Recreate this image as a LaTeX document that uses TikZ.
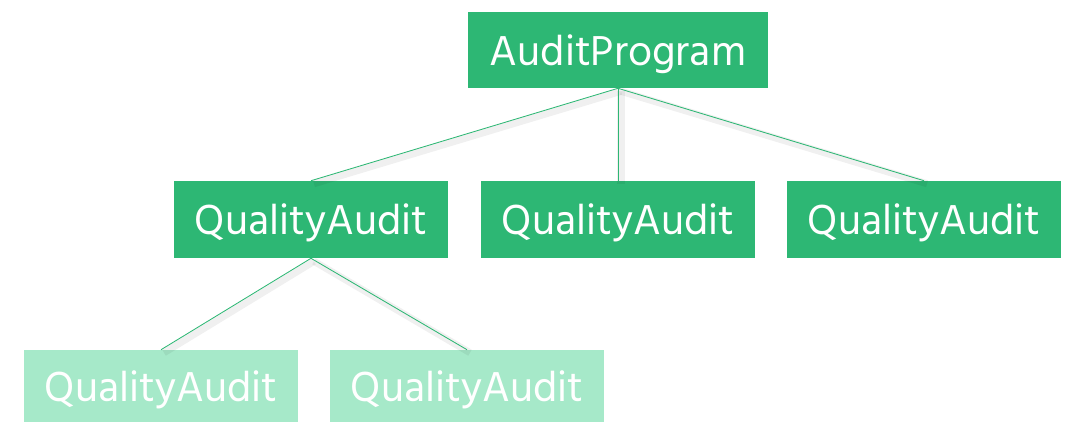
\documentclass[tikz,border=0pt]{standalone}
\usepackage{fontspec}
\setmainfont{Hind Siliguri}
\definecolor{auditgreen}{HTML}{2DB774}
\definecolor{auditmint}{HTML}{A6E9C9}
\begin{document}
\begin{tikzpicture}[x=0.025cm,y=-0.025cm,
    box/.style={fill=auditgreen,text=white,inner sep=0pt,minimum height=1.925cm,
      minimum width=6.85cm,text depth=0pt,font=\fontsize{30.5}{34}\selectfont},
    subbox/.style={box,fill=auditmint,minimum height=1.8cm},
    link/.style={auditgreen,line width=0.6pt},
    linkshadow/.style={black,opacity=0.06,line width=5pt}]
  \useasboundingbox (0,0) rectangle (1072,423);

  \node[box,minimum width=7.5cm,minimum height=1.9cm] (prog) at (618,50) {AuditProgram};
  \node[box] (qa1) at (311,219.5) {QualityAudit};
  \node[box] (qa2) at (618,219.5) {QualityAudit};
  \node[box] (qa3) at (924,219.5) {QualityAudit};
  \node[subbox] (qa11) at (161,386) {QualityAudit};
  \node[subbox] (qa12) at (467,386) {QualityAudit};

  \foreach \p/\c in {prog/qa1,prog/qa2,prog/qa3,qa1/qa11,qa1/qa12}
    {\draw[linkshadow] ([shift={(3,3)}]\p.south) -- ([shift={(3,3)}]\c.north);
     \draw[link] (\p.south) -- (\c.north);}
\end{tikzpicture}
\end{document}
